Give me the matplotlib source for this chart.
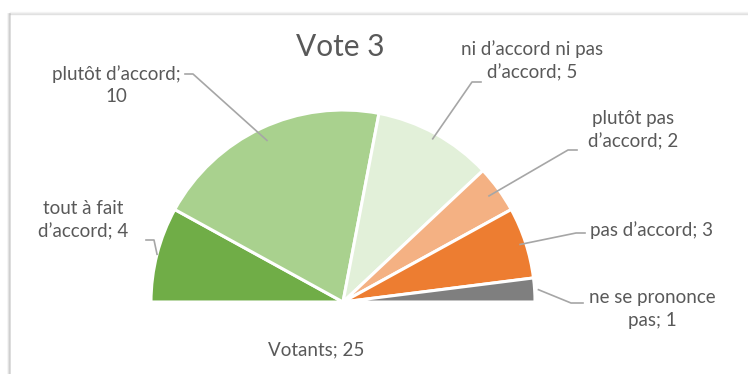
import matplotlib
matplotlib.use("Agg")
import matplotlib.pyplot as plt
import numpy as np
from matplotlib.lines import Line2D

# Vote results (the last entry is the hidden half used to make a semicircle)
categories = ["tout à fait\nd’accord", "plutôt d’accord", "ni d’accord ni pas\nd’accord",
              "plutôt pas\nd’accord", "pas d’accord", "ne se prononce\npas", "Votants"]
values = [4, 10, 5, 2, 3, 1, 25]
colors = ["#70AD47", "#A9D18E", "#E2F0D9", "#F4B183", "#ED7D31", "#7F7F7F", "none"]
title = "Vote 3"

W, H = 748, 374
plt.rcParams["font.family"] = ["Lato", "DejaVu Sans"]
fig = plt.figure(figsize=(W / 100, H / 100), dpi=100)
ax = fig.add_axes([0, 0, 1, 1])


def Y(y):
    """Convert a top-down pixel row into the axes' y coordinate."""
    return H - y


cx, cy, R = 343, 302, 192
wedges, _ = ax.pie(values, colors=colors, startangle=180, counterclock=False,
                   center=(cx, Y(cy)), radius=R, frame=True,
                   wedgeprops=dict(edgecolor="white", linewidth=2.2))
wedges[-1].set_edgecolor("none")
ax.set_xlim(0, W)
ax.set_ylim(0, H)
ax.set_aspect("equal")
ax.axis("off")

# card frame with a soft shadow on the left and top
for i, a in enumerate([0.35, 0.2, 0.1]):
    ax.add_line(Line2D([10 - i, 10 - i], [Y(14), Y(374)], color="#8C8C8C", alpha=a, lw=1.2))
    ax.add_line(Line2D([10, W], [Y(14 - i), Y(14 - i)], color="#B0B0B0", alpha=a, lw=1.0))

ax.text(340, Y(47), title, ha="center", va="center", fontsize=21.5, color="#595959")

txt_col = "#595959"
line_col = "#A6A6A6"
fs = 13.5

# label text positions, separators and leader line anchors (label side point, elbow)
label_cfg = [
    dict(xy=(83, 220), sep="; ", lead=[(146, 240), (154, 240)], rf=1.0),
    dict(xy=(116, 85), sep=";\n", lead=[(185, 74), (193, 74)], rf=0.93),
    dict(xy=(532, 61), sep="; ", lead=[(481, 82), (472, 82)], rf=0.97),
    dict(xy=(633, 130), sep="; ", lead=[(577, 150), (568, 150)], rf=0.94),
    dict(xy=(652, 230), sep="; ", lead=[(585, 233), (576, 233)], rf=0.97),
    dict(xy=(652, 309), sep="; ", lead=[(583, 303), (571, 303)], rf=1.02),
]

for w, cat, val, cfg in zip(wedges[:-1], categories[:-1], values[:-1], label_cfg):
    ax.text(cfg["xy"][0], Y(cfg["xy"][1]), f"{cat}{cfg['sep']}{val}", ha="center",
            va="center", fontsize=fs, color=txt_col, linespacing=1.4)
    mid = np.deg2rad((w.theta1 + w.theta2) / 2)
    px = cx + R * cfg["rf"] * np.cos(mid)
    py = Y(cy) + R * cfg["rf"] * np.sin(mid)
    (x0, y0), (x1, y1) = cfg["lead"]
    ax.add_line(Line2D([x0, x1, px], [Y(y0), Y(y1), py], color=line_col, lw=1.2))

ax.text(316, Y(350), f"{categories[-1]}; {values[-1]}", ha="center", va="center",
        fontsize=fs, color=txt_col)

fig.savefig("out.png", dpi=100)
